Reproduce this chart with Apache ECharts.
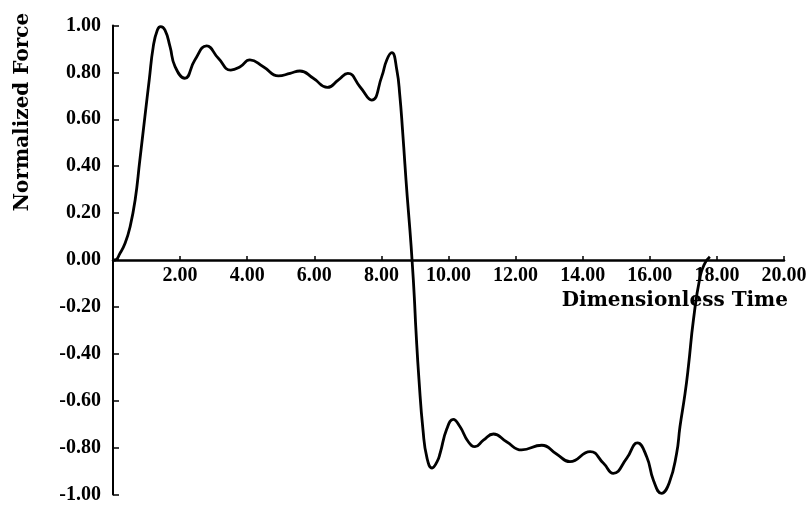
<!DOCTYPE html>
<html>
<head>
<meta charset="utf-8">
<script src="https://cdn.jsdelivr.net/npm/echarts@6/dist/echarts.min.js"></script>
<style>html,body{margin:0;padding:0;background:#fff}#c{width:812px;height:508px}</style>
</head>
<body>
<div id="c"></div>
<script>
var timeValues = [0.0,0.06,0.21,0.36,0.51,0.66,0.80,0.95,1.08,1.20,1.32,1.42,1.55,1.70,1.85,2.14,2.44,2.79,3.14,3.51,3.79,4.08,4.48,4.93,5.28,5.57,5.97,6.39,6.72,7.0,7.36,7.71,8.01,8.16,8.31,8.46,8.55,8.63,8.70,8.77,8.85,8.92,8.98,9.03,9.12,9.24,9.36,9.51,9.66,9.75,9.95,10.14,10.34,10.59,10.79,11.04,11.34,11.73,12.18,12.78,13.22,13.62,14.22,14.62,14.91,15.31,15.63,15.91,16.11,16.35,16.58,16.8,16.9,17.05,17.15,17.3,17.5,17.64,17.79];
var forceValues = [0.0,0.0,0.029,0.071,0.142,0.256,0.426,0.61,0.768,0.91,0.98,0.995,0.98,0.91,0.825,0.775,0.853,0.913,0.86,0.81,0.824,0.853,0.824,0.785,0.796,0.806,0.775,0.736,0.768,0.796,0.739,0.682,0.782,0.853,0.884,0.81,0.70,0.554,0.41,0.27,0.128,-0.014,-0.156,-0.30,-0.51,-0.725,-0.845,-0.887,-0.86,-0.824,-0.72,-0.68,-0.71,-0.775,-0.796,-0.768,-0.742,-0.775,-0.81,-0.79,-0.827,-0.86,-0.817,-0.867,-0.91,-0.846,-0.78,-0.84,-0.94,-0.995,-0.95,-0.824,-0.71,-0.57,-0.455,-0.256,-0.07,-0.014,0.014];
var xTicks = [0,2,4,6,8,10,12,14,16,18,20];
var yTicks = [-1,-0.8,-0.6,-0.4,-0.2,0,0.2,0.4,0.6,0.8,1];
var xTitle = 'Dimensionless Time';
var yTitle = 'Normalized Force';

var data = timeValues.map(function(t,i){return [t, forceValues[i]];});
var chart = echarts.init(document.getElementById('c'), null, {renderer:'canvas'});
var tickFont = {color:'#000', fontFamily:'Liberation Serif', fontWeight:'bold', fontSize:20};
var gridTop = 25.5, gridBottom = 13.5, H = 508;
var plotH = H - gridTop - gridBottom;
chart.setOption({
  backgroundColor:'#fff',
  animation:false,
  grid:{left:113, right:28, top:gridTop, bottom:gridBottom, containLabel:false},
  xAxis:{type:'value', min:xTicks[0], max:xTicks[xTicks.length-1], interval:2,
    position:'bottom', offset:-plotH/2,
    axisLine:{onZero:false, lineStyle:{color:'#000', width:2.5}},
    axisTick:{inside:true, length:4, lineStyle:{color:'#000', width:1.5}},
    axisLabel:Object.assign({showMinLabel:false, margin:6, formatter:function(v){return v.toFixed(2);}}, tickFont),
    splitLine:{show:false}},
  yAxis:{type:'value', min:yTicks[0], max:yTicks[yTicks.length-1], interval:0.2,
    axisLine:{show:true, lineStyle:{color:'#000', width:2}},
    axisTick:{show:true, inside:true, length:6, lineStyle:{color:'#000', width:1.5}},
    axisLabel:Object.assign({margin:12, formatter:function(v){return v.toFixed(2);}}, tickFont),
    splitLine:{show:false}},
  graphic:[
    {type:'text', right:24, top:291, style:{text:xTitle, fill:'#000', font:'bold 20px "DejaVu Serif"'}},
    {type:'text', x:23, y:112, rotation:Math.PI/2, style:{text:yTitle, fill:'#000', font:'bold 20px "DejaVu Serif"', align:'center', verticalAlign:'middle'}}
  ],
  series:[{type:'line', data:data, smooth:0.5, showSymbol:false, lineStyle:{color:'#000', width:2.8}}]
});
</script>
</body>
</html>
